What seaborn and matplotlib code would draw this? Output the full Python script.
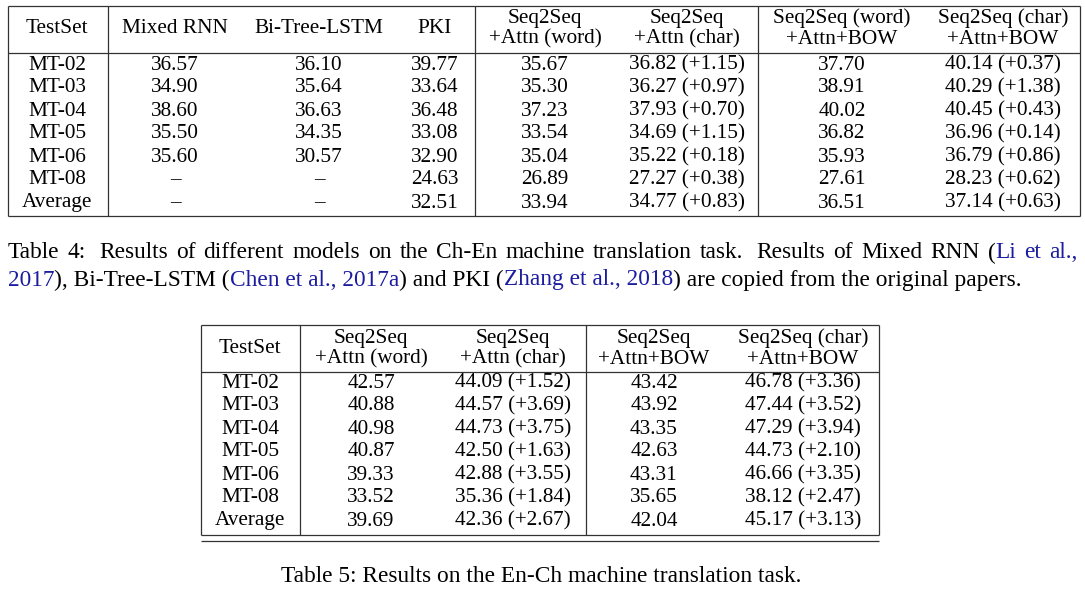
import matplotlib
matplotlib.use("Agg")
import matplotlib.pyplot as plt
import seaborn as sns

# Estética
sns.set_theme(style="white")
plt.rcParams['font.family'] = ['Liberation Serif', 'DejaVu Serif']
plt.rcParams['text.color'] = 'black'

# ---------------------------------------------------------
# Dados - Tabela 4 (Ch-En)
# ---------------------------------------------------------
testsets = ['MT-02', 'MT-03', 'MT-04', 'MT-05', 'MT-06', 'MT-08', 'Average']

t4_headers = ['TestSet', 'Mixed RNN', 'Bi-Tree-LSTM', 'PKI',
              'Seq2Seq\n+Attn (word)', 'Seq2Seq\n+Attn (char)',
              'Seq2Seq (word)\n+Attn+BOW', 'Seq2Seq (char)\n+Attn+BOW']
t4_mixed_rnn = [36.57, 34.90, 38.60, 35.50, 35.60, None, None]
t4_bi_tree = [36.10, 35.64, 36.63, 34.35, 30.57, None, None]
t4_pki = [39.77, 33.64, 36.48, 33.08, 32.90, 24.63, 32.51]
t4_attn_word = [35.67, 35.30, 37.23, 33.54, 35.04, 26.89, 33.94]
t4_attn_char = [36.82, 36.27, 37.93, 34.69, 35.22, 27.27, 34.77]
t4_attn_char_gain = [1.15, 0.97, 0.70, 1.15, 0.18, 0.38, 0.83]
t4_bow_word = [37.70, 38.91, 40.02, 36.82, 35.93, 27.61, 36.51]
t4_bow_char = [40.14, 40.29, 40.45, 36.96, 36.79, 28.23, 37.14]
t4_bow_char_gain = [0.37, 1.38, 0.43, 0.14, 0.86, 0.62, 0.63]

# ---------------------------------------------------------
# Dados - Tabela 5 (En-Ch)
# ---------------------------------------------------------
t5_headers = ['TestSet', 'Seq2Seq\n+Attn (word)', 'Seq2Seq\n+Attn (char)',
              'Seq2Seq\n+Attn+BOW', 'Seq2Seq (char)\n+Attn+BOW']
t5_attn_word = [42.57, 40.88, 40.98, 40.87, 39.33, 33.52, 39.69]
t5_attn_char = [44.09, 44.57, 44.73, 42.50, 42.88, 35.36, 42.36]
t5_attn_char_gain = [1.52, 3.69, 3.75, 1.63, 3.55, 1.84, 2.67]
t5_bow_word = [43.42, 43.92, 43.35, 42.63, 43.31, 35.65, 42.04]
t5_bow_char = [46.78, 47.44, 47.29, 44.73, 46.66, 38.12, 45.17]
t5_bow_char_gain = [3.36, 3.52, 3.94, 2.10, 3.35, 2.47, 3.13]

# Legendas (texto, tipo): 'k' = preto, 'c' = citação (azul)
caption4_line1 = [
    [("Table", 'k')], [("4:", 'k')], [("Results", 'k')], [("of", 'k')],
    [("different", 'k')], [("models", 'k')], [("on", 'k')], [("the", 'k')],
    [("Ch-En", 'k')], [("machine", 'k')], [("translation", 'k')], [("task.", 'k')],
    [("Results", 'k')], [("of", 'k')], [("Mixed", 'k')], [("RNN", 'k')],
    [("(", 'k'), ("Li", 'c')], [("et", 'c')], [("al.,", 'c')],
]
caption4_wide_gaps = [1, 11]  # espaço maior depois de "4:" e "task."
caption4_line2 = [
    ("2017", 'c'), ("), Bi-Tree-LSTM (", 'k'), ("Chen et al., 2017a", 'c'),
    (") and PKI (", 'k'), ("Zhang et al., 2018", 'c'),
    (") are copied from the original papers.", 'k'),
]
caption5 = "Table 5: Results on the En-Ch machine translation task."

FS = 15.3      # texto das tabelas
FS_CAP = 16.8  # legendas
CITE = '#1c1ca0'
LINE = '#333333'
COLORS = {'k': 'black', 'c': CITE}


def fmt(v):
    return '–' if v is None else f"{v:.2f}"


def fmt_gain(v, g):
    return f"{v:.2f} (+{g:.2f})"


def draw_table(ax, headers, columns, xs, vlines, top, head_bot, bottom, x0, x1,
               head_ys, row_y0, row_dy):
    for y in (top, head_bot, bottom):
        ax.plot([x0, x1], [y, y], color=LINE, lw=0.9, solid_capstyle='butt')
    for x in vlines:
        ax.plot([x, x], [top, bottom], color=LINE, lw=0.9, solid_capstyle='butt')
    for x, h in zip(xs, headers):
        parts = h.split('\n')
        if len(parts) == 1:
            ax.text(x, sum(head_ys) / 2, h, ha='center', va='center', fontsize=FS)
        else:
            for y, p in zip(head_ys, parts):
                ax.text(x, y, p, ha='center', va='center', fontsize=FS)
    for j, col in enumerate(columns):
        for i, s in enumerate(col):
            ax.text(xs[j], row_y0 + i * row_dy, s, ha='center', va='center',
                    fontsize=FS)


fig = plt.figure(figsize=(10.85, 5.89), dpi=100)
ax = fig.add_axes([0, 0, 1, 1])
ax.set_xlim(0, 1085)
ax.set_ylim(589, 0)
ax.axis('off')
renderer = fig.canvas.get_renderer()

# Tabela 4
t4_cols = [
    testsets,
    [fmt(v) for v in t4_mixed_rnn],
    [fmt(v) for v in t4_bi_tree],
    [fmt(v) for v in t4_pki],
    [fmt(v) for v in t4_attn_word],
    [fmt_gain(v, g) for v, g in zip(t4_attn_char, t4_attn_char_gain)],
    [fmt(v) for v in t4_bow_word],
    [fmt_gain(v, g) for v, g in zip(t4_bow_char, t4_bow_char_gain)],
]
draw_table(ax, t4_headers, t4_cols,
           xs=[57, 175, 319, 435, 545, 687, 842, 1003],
           vlines=[8, 108, 475, 758, 1080],
           top=6, head_bot=53, bottom=216, x0=8, x1=1080,
           head_ys=(18, 39), row_y0=65, row_dy=23.0)


def text_width(s):
    t = ax.text(0, 0, s, fontsize=FS_CAP)
    w = t.get_window_extent(renderer).width
    t.remove()
    return w


# Legenda Tabela 4 - linha 1 justificada
left, right, y1, y2 = 8, 1078, 253, 280
widths = [sum(text_width(s) for s, _ in word) for word in caption4_line1]
weights = [1.6 if i in caption4_wide_gaps else 1.0 for i in range(len(caption4_line1) - 1)]
gap = (right - left - sum(widths)) / sum(weights)
x = left
for i, word in enumerate(caption4_line1):
    for s, kind in word:
        ax.text(x, y1, s, ha='left', va='center', fontsize=FS_CAP, color=COLORS[kind])
        x += text_width(s)
    if i < len(weights):
        x += gap * weights[i]

# linha 2
x = left
for s, kind in caption4_line2:
    ax.text(x, y2, s, ha='left', va='center', fontsize=FS_CAP, color=COLORS[kind])
    x += text_width(s)

# Tabela 5
t5_cols = [
    testsets,
    [fmt(v) for v in t5_attn_word],
    [fmt_gain(v, g) for v, g in zip(t5_attn_char, t5_attn_char_gain)],
    [fmt(v) for v in t5_bow_word],
    [fmt_gain(v, g) for v, g in zip(t5_bow_char, t5_bow_char_gain)],
]
draw_table(ax, t5_headers, t5_cols,
           xs=[250, 371, 513, 654, 803],
           vlines=[201, 300, 586, 879],
           top=325, head_bot=372, bottom=535, x0=201, x1=879,
           head_ys=(338, 359), row_y0=383, row_dy=23.0)
ax.plot([201, 879], [541, 541], color=LINE, lw=0.9, solid_capstyle='butt')

ax.text(541, 577, caption5, ha='center', va='center', fontsize=FS_CAP)

fig.savefig("out.png", dpi=100)
plt.close(fig)
